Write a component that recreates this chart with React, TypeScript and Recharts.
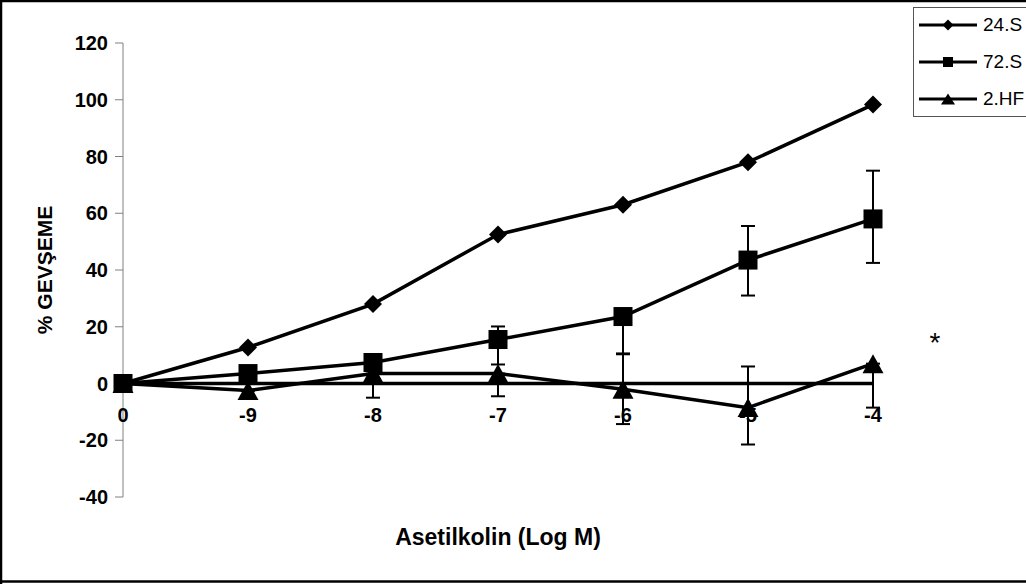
import React from "react";
import { LineChart, Line, XAxis, YAxis, ReferenceLine, ErrorBar } from "recharts";

const doses = ["0", "-9", "-8", "-7", "-6", "-5", "-4"];
const s24 = [0, 12.7, 28, 52.5, 63, 78, 98.3];
const s72 = [0, 3.5, 7.4, 15.5, 23.6, 43.5, 58];
const s72Err = [[0, 0], [0, 0], [0, 0], [8.8, 4.6], [13, 0], [12.5, 12], [15.5, 17]];
const s2hf = [0, -2.5, 3.5, 3.5, -2, -8.5, 7];
const s2hfErr = [[0, 0], [0, 0], [8.5, 0], [8, 0], [12.3, 12.3], [13, 14.5], [15.5, 0]];
const yTicks = [-40, -20, 0, 20, 40, 60, 80, 100, 120];
const seriesNames = ["24.S", "72.S", "2.HF"];

const data = doses.map((d, i) => ({
  dose: d,
  s24: s24[i],
  s72: s72[i],
  s72Err: s72Err[i],
  s2hf: s2hf[i],
  s2hfErr: s2hfErr[i],
}));

const W = 1026;
const H = 584;
const margin = { top: 43, right: 153, bottom: 57, left: 0 };
const xAxisHeight = 30;
const yMin = -40;
const yMax = 120;
const plotH = H - margin.top - margin.bottom - xAxisHeight;
const zeroY = margin.top + (plotH * yMax) / (yMax - yMin);

const font = "'Liberation Sans', Arial, sans-serif";

const Diamond = ({ cx, cy, r = 9 }: any) => (
  <path d={`M${cx},${cy - r}L${cx + r},${cy}L${cx},${cy + r}L${cx - r},${cy}Z`} fill="#000" />
);
const Square = ({ cx, cy, s = 19 }: any) => (
  <rect x={cx - s / 2} y={cy - s / 2} width={s} height={s} fill="#000" />
);
const Triangle = ({ cx, cy, w = 21, h = 19 }: any) => (
  <path d={`M${cx},${cy - h / 2}L${cx + w / 2},${cy + h / 2}L${cx - w / 2},${cy + h / 2}Z`} fill="#000" />
);

// x ticks sit under the zero line, like Excel's crossing axis
const XTick = ({ x, payload }: any) => (
  <g>
    <line x1={x} x2={x} y1={zeroY} y2={zeroY + 6} stroke="#000" strokeWidth={2} />
    <text x={x} y={zeroY + 38} textAnchor="middle" fontFamily={font} fontWeight="bold" fontSize={20} fill="#000">
      {payload.value}
    </text>
  </g>
);

const legendIcons = [
  <Diamond cx={29} cy={10} r={5.5} />,
  <Square cx={29} cy={10} s={10} />,
  <Triangle cx={29} cy={10} w={14} h={11} />,
];

export default function App() {
  return (
    <div style={{ position: "absolute", left: 0, top: 0, width: W, height: H, background: "#fff", overflow: "hidden" }}>
      <LineChart width={W} height={H} data={data} margin={margin}>
        <XAxis
          dataKey="dose"
          type="category"
          scale="point"
          padding={{ left: 0, right: 0 }}
          axisLine={false}
          tickLine={false}
          height={xAxisHeight}
          interval={0}
          tick={<XTick />}
          label={{
            value: "Asetilkolin (Log M)",
            position: "bottom",
            offset: 2,
            style: { fontFamily: font, fontWeight: "bold", fontSize: 23, fill: "#000" },
          }}
        />
        <YAxis
          width={123}
          domain={[yMin, yMax]}
          ticks={yTicks}
          interval={0}
          axisLine={{ stroke: "#808080", strokeWidth: 1 }}
          tickLine={{ stroke: "#808080", strokeWidth: 1 }}
          tickSize={8}
          tickMargin={7}
          tick={{ fontFamily: font, fontWeight: "bold", fontSize: 20, fill: "#000" }}
          label={{
            value: "% GEVŞEME",
            angle: -90,
            position: "insideLeft",
            offset: 45,
            style: { textAnchor: "middle", fontFamily: font, fontWeight: "bold", fontSize: 21, fill: "#000" },
          }}
        />
        <ReferenceLine y={0} stroke="#000" strokeWidth={3.5} />
        <Line
          dataKey="s24"
          name={seriesNames[0]}
          stroke="#000"
          strokeWidth={3.5}
          isAnimationActive={false}
          activeDot={false}
          dot={(p: any) => <Diamond key={`d-${p.index}`} cx={p.cx} cy={p.cy} />}
        />
        <Line
          dataKey="s2hf"
          name={seriesNames[2]}
          stroke="#000"
          strokeWidth={3.5}
          isAnimationActive={false}
          activeDot={false}
          dot={(p: any) => <Triangle key={`t-${p.index}`} cx={p.cx} cy={p.cy} />}
        >
          <ErrorBar dataKey="s2hfErr" direction="y" width={7} stroke="#000" strokeWidth={2} />
        </Line>
        <Line
          dataKey="s72"
          name={seriesNames[1]}
          stroke="#000"
          strokeWidth={3.5}
          isAnimationActive={false}
          activeDot={false}
          dot={(p: any) => <Square key={`s-${p.index}`} cx={p.cx} cy={p.cy} />}
        >
          <ErrorBar dataKey="s72Err" direction="y" width={7} stroke="#000" strokeWidth={2} />
        </Line>
      </LineChart>

      {/* legend box, cut by the right edge as in the original */}
      <div
        style={{
          position: "absolute",
          left: 913,
          top: 7,
          width: 200,
          height: 110,
          border: "1px solid #555",
          background: "#fff",
          boxSizing: "border-box",
        }}
      >
        {seriesNames.map((n, i) => (
          <div
            key={n}
            style={{
              position: "absolute",
              left: 5,
              top: 7 + i * 37,
              height: 20,
              display: "flex",
              alignItems: "center",
              whiteSpace: "nowrap",
            }}
          >
            <svg width={60} height={20}>
              <line x1={0} x2={58} y1={10} y2={10} stroke="#000" strokeWidth={3} />
              {legendIcons[i]}
            </svg>
            <span style={{ fontFamily: font, fontSize: 19, color: "#000", marginLeft: 4 }}>{n}</span>
          </div>
        ))}
      </div>

      <svg width={W} height={H} style={{ position: "absolute", left: 0, top: 0, pointerEvents: "none" }}>
        <line x1={1} x2={1} y1={0} y2={H} stroke="#000" strokeWidth={2.5} />
        <line x1={0} x2={W} y1={1} y2={1} stroke="#000" strokeWidth={2.5} />
        <line x1={0} x2={W} y1={581.5} y2={581.5} stroke="#000" strokeWidth={2.5} />
        <text x={935} y={352} textAnchor="middle" fontFamily={font} fontSize={28} fill="#000">
          *
        </text>
      </svg>
    </div>
  );
}
